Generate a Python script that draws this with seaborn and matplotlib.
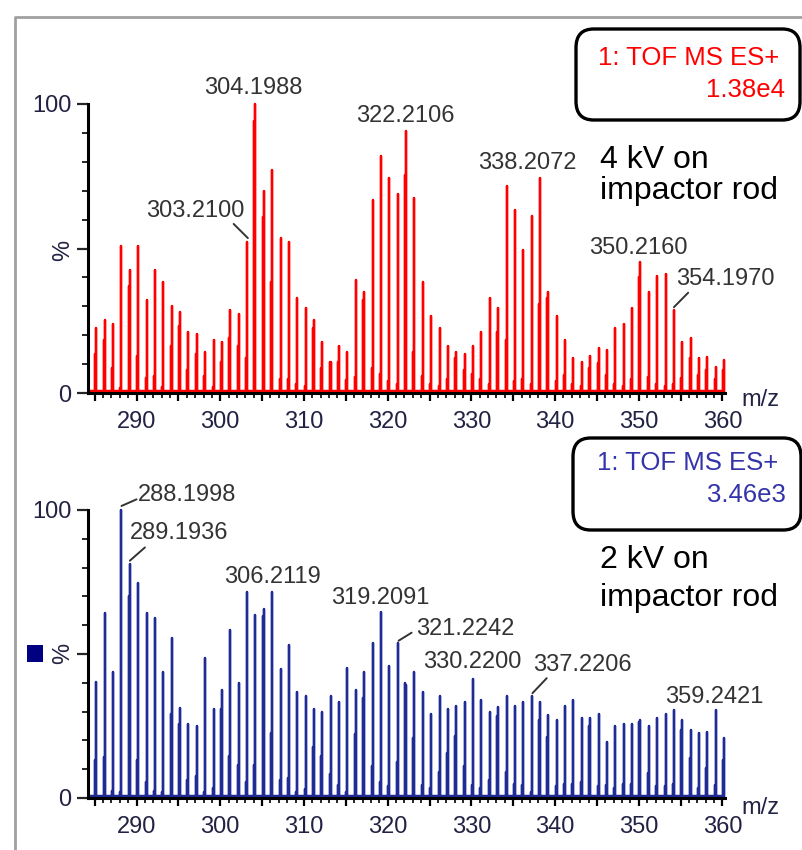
import numpy as np
import pandas as pd
import matplotlib
matplotlib.use("Agg")
import matplotlib.pyplot as plt
from matplotlib.patches import FancyBboxPatch, Rectangle
from matplotlib.lines import Line2D
from matplotlib.ticker import MultipleLocator, FixedLocator, FuncFormatter
import seaborn as sns

# nominal masses (one main stick + one shoulder stick per mass)
nominal = list(range(285, 361))

# 4 kV spectrum (% of 1.38e4)
top_main = [22.4, 25.3, 23.8, 50.9, 42.5, 50.9, 32.2, 42.5, 38.5, 30.1,
            28.2, 21.0, 20.5, 14.1, 18.4, 17.7, 28.7, 27.4, 52.3, 100.0,
            69.8, 77.2, 53.7, 52.3, 33.0, 29.3, 25.3, 17.6, 10.7, 16.3,
            14.1, 39.1, 35.1, 66.9, 82.0, 74.5, 69.0, 90.5, 67.5, 38.5,
            26.7, 22.4, 16.3, 14.1, 13.6, 16.3, 21.0, 33.0, 29.3, 71.6,
            63.2, 49.4, 61.3, 74.5, 35.1, 26.8, 18.3, 12.2, 10.6, 12.8,
            15.5, 14.9, 22.4, 23.9, 29.3, 45.4, 35.1, 40.5, 41.2, 28.7,
            17.8, 18.9, 12.2, 12.6, 9.1, 11.4]
top_second = [13.6, 18.4, 8.6, 1.7, 37.0, 12.9, 5.2, 6.0, 2.0, 16.3,
              23.2, 8.0, 13.6, 6.0, 2.0, 10.7, 19.2, 16.4, 12.0, 94.0,
              60.9, 38.5, 5.0, 5.0, 3.0, 2.5, 22.4, 8.6, 10.7, 10.7,
              4.6, 5.7, 32.2, 8.6, 6.6, 4.3, 3.0, 75.6, 14.1, 6.0,
              3.0, 2.5, 5.0, 12.0, 8.0, 6.7, 5.0, 3.0, 21.0, 18.4,
              4.3, 5.0, 3.0, 30.8, 32.8, 4.0, 6.2, 3.0, 2.5, 8.5,
              10.3, 6.2, 3.0, 2.5, 5.0, 40.3, 5.7, 3.0, 2.5, 3.0,
              5.2, 12.0, 6.2, 8.0, 5.0, 8.0]

# 2 kV spectrum (% of 3.46e3)
bot_main = [40.4, 64.1, 43.9, 100.0, 81.3, 74.5, 64.1, 62.6, 43.9, 55.7,
            31.4, 25.7, 25.0, 48.7, 30.8, 37.5, 58.3, 39.8, 71.6, 63.5,
            65.5, 71.6, 44.7, 53.1, 36.9, 35.5, 30.8, 30.0, 35.5, 33.4,
            45.3, 37.5, 43.9, 53.7, 64.7, 46.0, 53.7, 39.2, 43.9, 36.9,
            29.2, 35.5, 30.8, 32.1, 33.4, 41.2, 34.0, 30.0, 31.5, 35.5,
            32.1, 33.4, 35.5, 33.4, 28.8, 27.1, 31.9, 34.0, 27.7, 27.7,
            29.2, 19.6, 25.0, 25.7, 25.7, 27.1, 25.0, 27.7, 29.2, 30.6,
            27.1, 23.6, 22.7, 23.0, 30.6, 20.7]
bot_second = [13.2, 14.1, 2.5, 2.0, 70.3, 13.2, 5.7, 2.5, 2.2, 29.2,
              25.7, 6.3, 7.8, 2.2, 3.3, 30.8, 14.6, 11.5, 5.7, 11.5,
              63.3, 22.5, 6.3, 6.8, 2.2, 3.0, 17.6, 14.7, 8.3, 4.5,
              2.2, 22.2, 34.8, 11.2, 5.7, 4.2, 12.4, 39.8, 21.0, 4.5,
              3.3, 9.1, 15.5, 21.6, 11.2, 4.5, 3.3, 6.3, 28.6, 9.1,
              5.0, 4.5, 2.2, 27.1, 21.3, 4.0, 5.0, 5.0, 5.7, 25.0,
              4.0, 4.5, 3.3, 5.0, 5.0, 26.5, 8.6, 4.0, 4.0, 5.0,
              23.6, 13.8, 3.3, 10.3, 4.5, 13.2]

top_labels = ["304.1988", "303.2100", "322.2106", "338.2072", "350.2160", "354.1970"]
bot_labels = ["288.1998", "289.1936", "306.2119", "319.2091", "321.2242",
              "330.2200", "337.2206", "359.2421"]

TOP_COLOR = "#ff0000"
BOT_COLOR = "#1f2c96"
NOTE_COLOR = "#333333"
AXIS_TEXT = "#222244"
W, H = 803, 850


def px(x, y):
    return x / W, 1 - y / H


def stick_frame(main, second):
    peaks = []
    for n, h1, h2 in zip(nominal, main, second):
        peaks.append((n + 0.08, h2))
        peaks.append((n + 0.2, h1))
    peaks.sort()
    rows = []
    for x, h in peaks:
        rows += [(x, 0.0), (x, h), (x, 0.0)]
    return pd.DataFrame(rows, columns=["mz", "pct"])


sns.set_style("white")
plt.rcParams["font.family"] = ["Liberation Sans", "DejaVu Sans"]

fig = plt.figure(figsize=(W / 100, H / 100), dpi=100)
ax_top = fig.add_axes([88 / W, 1 - 393 / H, (725 - 88) / W, (393 - 104) / H])
ax_bot = fig.add_axes([88 / W, 1 - 798 / H, (725 - 88) / W, (798 - 510) / H])

for ax, main, second, color in [(ax_top, top_main, top_second, TOP_COLOR),
                                (ax_bot, bot_main, bot_second, BOT_COLOR)]:
    df = stick_frame(main, second)
    sns.lineplot(data=df, x="mz", y="pct", sort=False, estimator=None,
                 color=color, lw=1.7, ax=ax, clip_on=False)
    ax.axhline(0.7, color=color, lw=2.5, zorder=1)
    ax.set_xlim(284.2, 360.3)
    ax.set_ylim(0, 100)
    ax.set_xlabel("")
    ax.set_ylabel("")
    for s in ["top", "right"]:
        ax.spines[s].set_visible(False)
    for s in ["left", "bottom"]:
        ax.spines[s].set_color("black")
        ax.spines[s].set_linewidth(2.2)
    ax.xaxis.set_major_locator(MultipleLocator(5))
    ax.xaxis.set_minor_locator(MultipleLocator(1))
    ax.xaxis.set_major_formatter(FuncFormatter(
        lambda v, p: f"{int(round(v))}" if round(v) % 10 == 0 else ""))
    ax.yaxis.set_major_locator(FixedLocator([0, 50, 100]))
    ax.yaxis.set_minor_locator(MultipleLocator(10))
    ax.set_yticklabels(["0", "", "100"])
    ax.tick_params(axis="x", which="major", length=6, width=1.6, direction="out",
                   labelsize=17, pad=7, bottom=True, colors="black")
    ax.tick_params(axis="x", which="minor", length=3.3, width=1.4, direction="out",
                   bottom=True)
    ax.tick_params(axis="y", which="major", length=8, width=1.6, direction="out",
                   labelsize=17, pad=4, left=True)
    ax.tick_params(axis="y", which="minor", length=4.3, width=1.4, direction="out",
                   left=True)
    for lab in ax.get_xticklabels() + ax.get_yticklabels():
        lab.set_color(AXIS_TEXT)

kw = dict(fontsize=17, color=NOTE_COLOR, va="center", annotation_clip=False)

# peak labels, top panel
ax_top.annotate(top_labels[0], xy=(304.0, 105.5), ha="center", **kw)
ax_top.annotate(top_labels[1], xy=(296.96, 63.1), ha="center", **kw)
ax_top.annotate(top_labels[2], xy=(322.06, 95.8), ha="center", **kw)
ax_top.annotate(top_labels[3], xy=(336.7, 79.6), ha="center", **kw)
ax_top.annotate(top_labels[4], xy=(349.9, 50.3), ha="center", **kw)
ax_top.annotate(top_labels[5], xy=(360.3, 39.4), ha="center", **kw)
for (x0, y0), (x1, y1) in [((301.6, 58.5), (303.3, 53.6)),
                           ((355.9, 34.7), (354.2, 29.7))]:
    ax_top.plot([x0, x1], [y0, y1], color=NOTE_COLOR, lw=1.4, clip_on=False)

# peak labels, bottom panel
ax_bot.annotate(bot_labels[0], xy=(290.2, 105.2), ha="left", **kw)
ax_bot.annotate(bot_labels[1], xy=(289.2, 92.0), ha="left", **kw)
ax_bot.annotate(bot_labels[2], xy=(306.25, 76.6), ha="center", **kw)
ax_bot.annotate(bot_labels[3], xy=(319.17, 69.6), ha="center", **kw)
ax_bot.annotate(bot_labels[4], xy=(323.45, 58.7), ha="left", **kw)
ax_bot.annotate(bot_labels[5], xy=(330.12, 47.3), ha="center", **kw)
ax_bot.annotate(bot_labels[6], xy=(343.27, 46.2), ha="center", **kw)
ax_bot.annotate(bot_labels[7], xy=(359.0, 35.2), ha="center", **kw)
for (x0, y0), (x1, y1) in [((290.0, 103.7), (288.2, 101.4)),
                           ((291.0, 87.0), (289.2, 82.4)),
                           ((322.86, 57.4), (321.3, 54.6)),
                           ((339.0, 41.6), (337.3, 36.4))]:
    ax_bot.plot([x0, x1], [y0, y1], color=NOTE_COLOR, lw=1.4, clip_on=False)

# axis labels
for y in [250, 653]:
    fig.text(*px(63, y), "%", rotation=90, fontsize=17, color=AXIS_TEXT,
             ha="center", va="center")
fig.text(*px(760, 400), "m/z", fontsize=17, color=AXIS_TEXT, ha="center", va="center")
fig.text(*px(760, 808), "m/z", fontsize=17, color=AXIS_TEXT, ha="center", va="center")

# navy square marker next to lower %
fig.add_artist(Rectangle(px(27, 662), 16 / W, 17 / H, transform=fig.transFigure,
                         facecolor="#000080", edgecolor="none"))

# instrument boxes
for (x0, y0, x1, y1), lines, color in [
        ((576, 29, 800, 120), [("1: TOF MS ES+", 779, 58), ("1.38e4", 785, 90)], TOP_COLOR),
        ((573, 438, 801, 530), [("1: TOF MS ES+", 778, 463), ("3.46e3", 786, 495)], "#3333aa")]:
    fig.add_artist(FancyBboxPatch(px(x0, y1), (x1 - x0) / W, (y1 - y0) / H,
                                  boxstyle="round,pad=0,rounding_size=0.022",
                                  transform=fig.transFigure, facecolor="white",
                                  edgecolor="black", lw=2.4))
    for txt, tx, ty in lines:
        fig.text(*px(tx, ty), txt, fontsize=18.5, color=color, ha="right", va="center")

# condition labels
fig.text(*px(600, 160), "4 kV on", fontsize=23, color="black", ha="left", va="center")
fig.text(*px(600, 191), "impactor rod", fontsize=23, color="black", ha="left", va="center")
fig.text(*px(600, 560), "2 kV on", fontsize=23, color="black", ha="left", va="center")
fig.text(*px(600, 598), "impactor rod", fontsize=23, color="black", ha="left", va="center")

# grey frame lines
fig.add_artist(Line2D([15 / W, 15 / W, 1.0], [0.0, 1 - 17 / H, 1 - 17 / H],
                      transform=fig.transFigure, color="#a0a0a0", lw=2))

fig.savefig("out.png", dpi=100)
